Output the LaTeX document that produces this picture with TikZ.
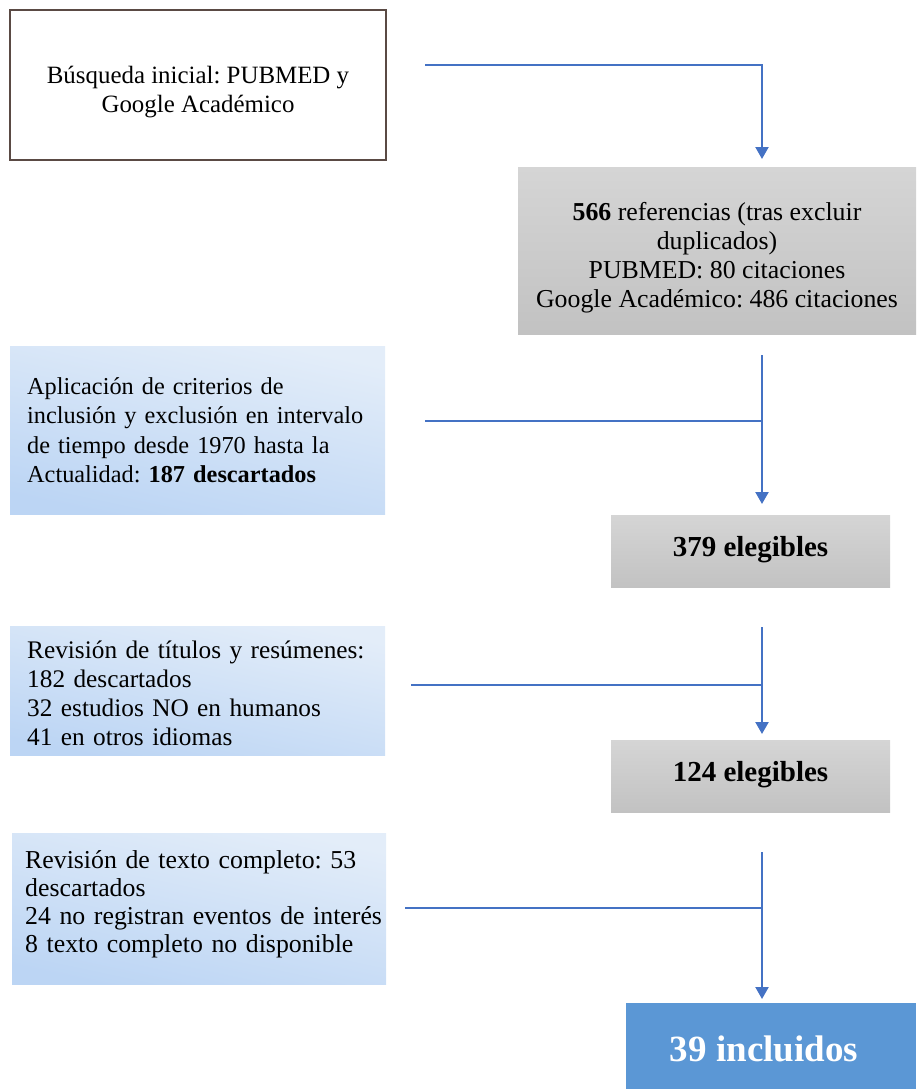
\documentclass[tikz,border=0pt]{standalone}
\usepackage{fontspec}
\setmainfont{Liberation Serif}
\frenchspacing
\usetikzlibrary{arrows.meta}
\definecolor{flowblue}{HTML}{4472C4}
\definecolor{boxbrown}{HTML}{5A4A44}
\definecolor{graytop}{HTML}{D5D5D5}
\definecolor{graybot}{HTML}{C2C2C2}
\definecolor{bluetop}{HTML}{E3EDF9}
\definecolor{bluebot}{HTML}{BCD5F4}
\definecolor{finalblue}{HTML}{5B97D5}
\begin{document}
\begin{tikzpicture}[x=1pt,y=-1pt,
  box/.style={anchor=north west, inner sep=0pt, outer sep=0pt},
  whitebox/.style={box, draw=boxbrown, line width=1.5pt, fill=white},
  graybox/.style={box, top color=graytop, bottom color=graybot},
  bluebox/.style={box, top color=bluetop, bottom color=bluebot, shading angle=-12},
  finalbox/.style={box, fill=finalblue},
  ctext/.style={inner sep=0pt, align=center},
  ltext/.style={inner sep=0pt, align=left, anchor=west},
  countfont/.style={font=\fontsize{29}{32}\selectfont\bfseries},
  flowline/.style={draw=flowblue, line width=2.2pt},
  flowarrow/.style={flowline, -{Triangle[length=12pt,width=13pt]}}
]
\useasboundingbox (0,0) rectangle (916,1089);

% boxes
\node[whitebox, minimum width=376pt, minimum height=150pt] (b1) at (10,10) {};
\node[graybox, minimum width=398pt, minimum height=167pt] (b2) at (518,167) {};
\node[bluebox, minimum width=375pt, minimum height=168pt] (b3) at (10,346) {};
\node[graybox, minimum width=279pt, minimum height=72pt] (b4) at (611,515) {};
\node[bluebox, minimum width=375pt, minimum height=129pt] (b5) at (10,626) {};
\node[graybox, minimum width=279pt, minimum height=72pt] (b6) at (611,740) {};
\node[bluebox, minimum width=374pt, minimum height=151pt] (b7) at (12,833) {};
\node[finalbox, minimum width=290pt, minimum height=86pt] (b8) at (626,1003) {};

% texts
\node[ctext, font=\fontsize{24.9}{29}\selectfont] (t1) at ([yshift=-7pt]b1.center)
  {Búsqueda inicial: PUBMED y\\Google Académico};
\node[ctext, font=\fontsize{25.8}{29}\selectfont] (t2) at ([yshift=-7pt]b2.center)
  {\textbf{566} referencias (tras excluir\\duplicados)\\PUBMED: 80 citaciones\\Google Académico: 486 citaciones};
\node[ltext, text width=350pt, font=\fontsize{24.3}{29.5}\selectfont] (t3) at ([xshift=17pt]b3.west)
  {Aplicación de criterios de\\inclusión y exclusión en intervalo\\de tiempo desde 1970 hasta la\\Actualidad: \textbf{187 descartados}};
\node[ctext, countfont] (t4) at ([yshift=1pt]b4.center) {379 elegibles};
\node[ltext, text width=355pt, font=\fontsize{25.3}{28.8}\selectfont] (t5) at ([xshift=17pt,yshift=-3pt]b5.west)
  {Revisión de títulos y resúmenes:\\182 descartados\\32 estudios NO en humanos\\41 en otros idiomas};
\node[ctext, countfont] (t6) at ([yshift=1pt]b6.center) {124 elegibles};
\node[ltext, text width=365pt, font=\fontsize{25.8}{28}\selectfont] (t7) at ([xshift=13pt,yshift=4pt]b7.west)
  {Revisión de texto completo: 53\\descartados\\24 no registran eventos de interés\\8 texto completo no disponible};
\node[ctext, text=white, font=\fontsize{37}{40}\selectfont\bfseries] (t8) at ([xshift=-7pt,yshift=-3pt]b8.center)
  {39 incluidos};

% connectors
\coordinate (spine) at (762,0);
\coordinate (s1) at (425,65);
\coordinate (s2) at (425,421);
\coordinate (s3) at (411,685);
\coordinate (s4) at (405,908);

\draw[flowarrow, shorten >=8pt] (s1) -| (spine |- b2.north);
\draw[flowarrow, shorten <=21pt, shorten >=11pt] (spine |- b2.south) -- (spine |- b4.north);
\draw[flowline] (s2) -- (spine |- s2);
\draw[flowarrow, shorten <=40pt, shorten >=6pt] (spine |- b4.south) -- (spine |- b6.north);
\draw[flowline] (s3) -- (spine |- s3);
\draw[flowarrow, shorten <=40pt, shorten >=4pt] (spine |- b6.south) -- (spine |- b8.north);
\draw[flowline] (s4) -- (spine |- s4);
\end{tikzpicture}
\end{document}
